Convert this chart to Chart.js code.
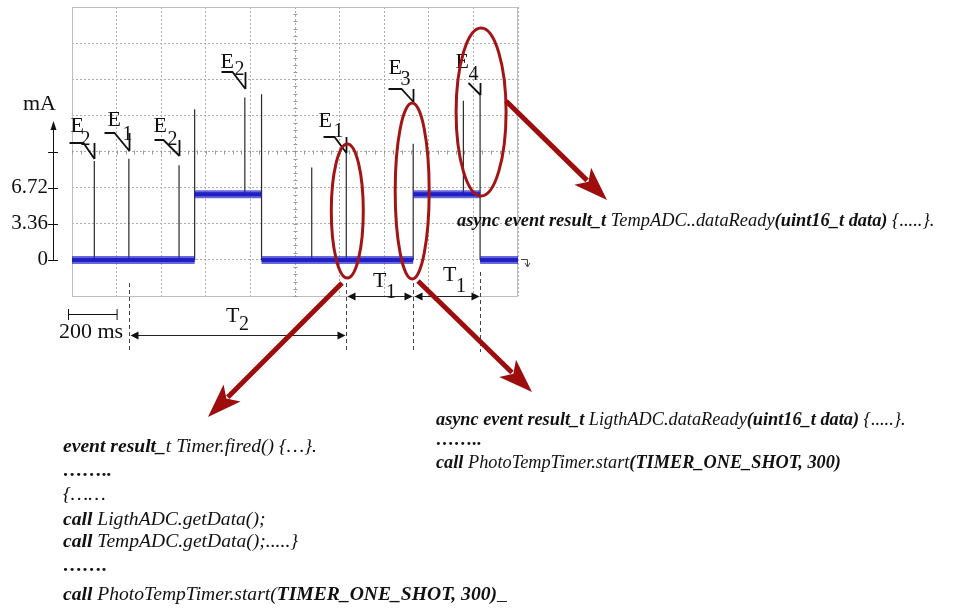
<!DOCTYPE html>
<html>
<head>
<meta charset="utf-8">
<script src="https://cdn.jsdelivr.net/npm/chart.js@4.4.1/dist/chart.umd.min.js"></script>
<style>
  html, body { margin: 0; background: #fff; }
  canvas { display: block; }
</style>
</head>
<body>
<canvas id="scope" width="977" height="608"></canvas>
<script>
'use strict';

// time axis (ms) and current axis (mA)
const timeTicks    = [0, 200, 400, 600, 800, 1000, 1200, 1400, 1600, 1800, 2000];
const currentTicks = [-3.36, 0, 3.36, 6.72, 10.08, 13.44, 16.8, 20.16, 23.52];
const labelledTicks = [0, 3.36, 6.72];
const tickLabels    = ['0', '3.36', '6.72'];

// supply current plateaus
const levelStart = [0, 550, 850, 1530, 1830];
const levelEnd   = [550, 850, 1530, 1830, 2000];
const levelValue = [0, 6.1, 0, 6.1, 0];

// short current peaks
const spikeTime = [100, 255, 480, 550, 775, 850, 1075, 1230, 1530, 1755, 1830];
const spikeBase = [0, 0, 0, 0, 6.1, 0, 0, 0, 0, 6.1, 0];
const spikeTop  = [9.2, 9.4, 8.8, 14.0, 15.1, 15.4, 8.6, 10.0, 10.8, 14.8, 15.5];

// labelled events
const eventName = ['E', 'E', 'E', 'E', 'E', 'E', 'E'];
const eventSub  = ['2', '1', '2', '2', '1', '3', '4'];
const eventTime = [100, 255, 480, 775, 1230, 1530, 1830];

// timer periods drawn under the trace
const t2Span = [255, 1230];
const t1Span = [1230, 1530, 1830];

const codeTemp = [
  [['async event result_t ', 1], ['TempADC..dataReady', 0], ['(uint16_t data)', 1], [' {.....}.', 0]]
];
const codeLight = [
  [['async event result_t ', 1], ['LigthADC.dataReady', 0], ['(uint16_t data)', 1], [' {.....}.', 0]],
  [['……..', 1]],
  [['call ', 1], ['PhotoTempTimer.start', 0], ['(TIMER_ONE_SHOT, 300)', 1]]
];
const codeTimer = [
  [['event result_', 1], ['t Timer.fired() {…}.', 0]],
  [['……..', 1]],
  [['{……', 0]],
  [['call ', 1], ['LigthADC.getData();', 0]],
  [['call ', 1], ['TempADC.getData();.....}', 0]],
  [['…….', 1]],
  [['call ', 1], ['PhotoTempTimer.start(', 0], ['TIMER_ONE_SHOT, 300)', 1], ['_', 0]]
];

// build line data with gaps between pieces
const levelData = [];
levelStart.forEach((s, i) => {
  levelData.push({ x: s, y: levelValue[i] }, { x: levelEnd[i], y: levelValue[i] }, { x: levelEnd[i], y: null });
});
const spikeData = [];
spikeTime.forEach((t, i) => {
  spikeData.push({ x: t, y: spikeBase[i] }, { x: t, y: spikeTop[i] }, { x: t, y: null });
});

const SERIF = '"Liberation Serif", "DejaVu Serif", serif';
const DARK_RED = '#9e0d0d';

function drawRuns(ctx, x, y, runs, size) {
  runs.forEach(([txt, bold]) => {
    ctx.font = `italic ${bold ? 'bold ' : ''}${size}px ${SERIF}`;
    ctx.fillText(txt, x, y);
    x += ctx.measureText(txt).width;
  });
}

function smallHead(ctx, x, y, dir) {
  ctx.beginPath();
  ctx.moveTo(x, y);
  ctx.lineTo(x - dir * 8, y - 4);
  ctx.lineTo(x - dir * 8, y + 4);
  ctx.closePath();
  ctx.fill();
}

function doubleArrow(ctx, x1, x2, y) {
  ctx.beginPath();
  ctx.moveTo(x1 + 2, y);
  ctx.lineTo(x2 - 2, y);
  ctx.stroke();
  smallHead(ctx, x1, y, -1);
  smallHead(ctx, x2, y, 1);
}

function redArrow(ctx, x1, y1, x2, y2) {
  const a = Math.atan2(y2 - y1, x2 - x1);
  const len = 34, half = 12;
  const bx = x2 - Math.cos(a) * len, by = y2 - Math.sin(a) * len;
  ctx.strokeStyle = DARK_RED;
  ctx.fillStyle = DARK_RED;
  ctx.lineWidth = 5;
  ctx.beginPath();
  ctx.moveTo(x1, y1);
  ctx.lineTo(bx + Math.cos(a) * 6, by + Math.sin(a) * 6);
  ctx.stroke();
  ctx.beginPath();
  ctx.moveTo(x2, y2);
  ctx.lineTo(bx - Math.sin(a) * half, by + Math.cos(a) * half);
  ctx.lineTo(bx + Math.cos(a) * 8, by + Math.sin(a) * 8);
  ctx.lineTo(bx + Math.sin(a) * half, by - Math.cos(a) * half);
  ctx.closePath();
  ctx.fill();
}

// scope frame, centre-line minor ticks and the separate mA axis
const scopeFrame = {
  id: 'scopeFrame',
  beforeDatasetsDraw(chart) {
    const { ctx, chartArea: ca, scales: { x, y } } = chart;
    ctx.save();
    ctx.strokeStyle = '#bdbdbd';
    ctx.lineWidth = 1;
    ctx.strokeRect(ca.left + 0.5, ca.top + 0.5, ca.right - ca.left - 1, ca.bottom - ca.top);

    // minor ticks on the centre graticule lines
    ctx.strokeStyle = '#9a9a9a';
    const cx = Math.round(x.getPixelForValue(1000)) + 0.5;
    for (let v = -3.36; v < 23.52; v += 0.672) {
      const py = Math.round(y.getPixelForValue(v)) + 0.5;
      ctx.beginPath(); ctx.moveTo(cx - 2, py); ctx.lineTo(cx + 2, py); ctx.stroke();
    }
    const cy = Math.round(y.getPixelForValue(10.08)) + 0.5;
    for (let t = 0; t < 2000; t += 40) {
      const px = Math.round(x.getPixelForValue(t)) + 0.5;
      ctx.beginPath(); ctx.moveTo(px, cy - 2); ctx.lineTo(px, cy + 2); ctx.stroke();
    }
    ctx.restore();
  },
  afterDraw(chart) {
    const { ctx, scales: { x, y } } = chart;
    ctx.save();
    ctx.strokeStyle = '#111';
    ctx.fillStyle = '#111';
    ctx.lineWidth = 1;

    // current axis with arrow
    const ax = 53.5;
    ctx.beginPath();
    ctx.moveTo(ax, y.getPixelForValue(0));
    ctx.lineTo(ax, 128);
    ctx.stroke();
    ctx.beginPath();
    ctx.moveTo(ax, 121); ctx.lineTo(ax - 3, 130); ctx.lineTo(ax + 3, 130); ctx.closePath();
    ctx.fill();
    [0, 3.36, 6.72, 10.08].forEach(v => {
      const py = Math.round(y.getPixelForValue(v)) + 0.5;
      ctx.beginPath(); ctx.moveTo(48, py); ctx.lineTo(58, py); ctx.stroke();
    });
    ctx.font = `22px ${SERIF}`;
    ctx.fillText('mA', 23, 110);

    // event callouts
    const callout = [
      { ty: 159, h: 16, d: 11, w: 25, ex: -24, ey: -27, sx: -14, sy: -14 },
      { ty: 151, h: 18, d: 15, w: 25, ex: -22, ey: -25, sx: -7,  sy: -11 },
      { ty: 156, h: 16, d: 16, w: 25, ex: -26, ey: -24, sx: -12, sy: -11 },
      { ty: 89,  h: 17, d: 13, w: 24, ex: -25, ey: -21, sx: -11, sy: -14 },
      { ty: 153, h: 16, d: 12, w: 23, ex: -28, ey: -26, sx: -13, sy: -16 },
      { ty: 102, h: 13, d: 12, w: 25, ex: -25, ey: -28, sx: -13, sy: -17 },
      { ty: 95,  h: 12, d: 12, w: 12, ex: -25, ey: -27, sx: -12, sy: -15 }
    ];
    eventTime.forEach((t, i) => {
      const c = callout[i];
      const tx = Math.round(x.getPixelForValue(t)) + 0.5;
      ctx.lineWidth = 1.8;
      ctx.beginPath();
      ctx.moveTo(tx - c.w, c.ty - c.h);
      ctx.lineTo(tx - c.d, c.ty - c.h);
      ctx.lineTo(tx, c.ty);
      ctx.moveTo(tx, c.ty - c.h);
      ctx.lineTo(tx, c.ty);
      ctx.stroke();
      ctx.font = `22px ${SERIF}`;
      ctx.fillText(eventName[i], tx + c.ex, c.ty + c.ey);
      ctx.font = `20px ${SERIF}`;
      ctx.fillText(eventSub[i], tx + c.sx, c.ty + c.sy);
    });

    // 200 ms scale bar
    const b0 = x.getPixelForValue(0) - 4, b1 = x.getPixelForValue(200) + 0.5;
    ctx.lineWidth = 1;
    ctx.beginPath();
    ctx.moveTo(b0, 314.5); ctx.lineTo(b1, 314.5);
    ctx.moveTo(b0 + 0.5, 309); ctx.lineTo(b0 + 0.5, 320);
    ctx.moveTo(b1, 309); ctx.lineTo(b1, 320);
    ctx.stroke();
    ctx.font = `22px ${SERIF}`;
    ctx.fillText('200 ms', 59, 338);

    // dashed period markers
    ctx.strokeStyle = '#444';
    ctx.setLineDash([4, 3]);
    [t2Span[0], ...t1Span].forEach((t, i) => {
      const px = Math.round(x.getPixelForValue(t)) + 0.5;
      ctx.beginPath();
      ctx.moveTo(px, i === 3 ? 272 : 283);
      ctx.lineTo(px, 352);
      ctx.stroke();
    });
    ctx.setLineDash([]);

    // period arrows and labels
    ctx.strokeStyle = '#222';
    ctx.fillStyle = '#111';
    const p = t => Math.round(x.getPixelForValue(t)) + 0.5;
    doubleArrow(ctx, p(t2Span[0]) + 1, p(t2Span[1]) - 1, 335.5);
    doubleArrow(ctx, p(t1Span[0]) + 1, p(t1Span[1]) - 1, 296.5);
    doubleArrow(ctx, p(t1Span[1]) + 1, p(t1Span[2]) - 1, 296.5);
    const periodLabel = (t0, t1, dx, base, sub) => {
      const mid = (p(t0) + p(t1)) / 2;
      ctx.font = `22px ${SERIF}`;
      ctx.fillText('T', mid + dx, base);
      ctx.font = `20px ${SERIF}`;
      ctx.fillText(sub, mid + dx + 13, base + (sub === '2' ? 8 : 11));
    };
    periodLabel(t2Span[0], t2Span[1], -12, 322, '2');
    periodLabel(t1Span[0], t1Span[1], -7, 287, '1');
    periodLabel(t1Span[1], t1Span[2], -4, 281, '1');

    // return glyph at the end of the trace
    ctx.strokeStyle = '#444';
    ctx.beginPath();
    ctx.moveTo(521, 259.5); ctx.lineTo(527.5, 259.5); ctx.lineTo(527.5, 266);
    ctx.moveTo(525, 263); ctx.lineTo(527.5, 267); ctx.lineTo(530, 263);
    ctx.stroke();

    // highlighted events
    ctx.strokeStyle = '#a31515';
    ctx.lineWidth = 3;
    [[1230, 1, 211, 16, 67], [1530, -1, 191, 17, 88], [1830, 1, 112, 25, 84]].forEach(([t, dx, cy, rx, ry]) => {
      ctx.beginPath();
      ctx.ellipse(x.getPixelForValue(t) + dx, cy, rx, ry, 0, 0, Math.PI * 2);
      ctx.stroke();
    });
    redArrow(ctx, 506, 101, 607, 200);
    redArrow(ctx, 342, 283, 208, 417);
    redArrow(ctx, 418, 281, 532, 392);

    // handler code
    ctx.fillStyle = '#111';
    codeTemp.forEach(line => drawRuns(ctx, 457, 226, line, 18.4));
    [425, 445, 468].forEach((yb, i) => drawRuns(ctx, 436, yb, codeLight[i], 18.3));
    [452, 476, 500, 525, 547, 571, 600].forEach((yb, i) => drawRuns(ctx, 63, yb, codeTimer[i], 19.6));
    ctx.restore();
  }
};

new Chart(document.getElementById('scope'), {
  type: 'line',
  data: {
    datasets: [
      { data: levelData, borderColor: 'rgba(40,40,205,0.7)', borderWidth: 8, pointRadius: 0, spanGaps: false, borderCapStyle: 'butt' },
      { data: levelData, borderColor: '#0c0ca8', borderWidth: 4, pointRadius: 0, spanGaps: false, borderCapStyle: 'butt' },
      { data: spikeData, borderColor: '#2a2a2a', borderWidth: 1.2, pointRadius: 0, spanGaps: false }
    ]
  },
  options: {
    responsive: false,
    animation: false,
    events: [],
    layout: { padding: { left: 0, top: 7, right: 459, bottom: 312 } },
    plugins: { legend: { display: false }, tooltip: { enabled: false } },
    scales: {
      x: {
        type: 'linear',
        min: 0, max: 2000,
        afterBuildTicks: s => { s.ticks = timeTicks.map(v => ({ value: v })); },
        afterFit: s => { s.height = 0; s.paddingLeft = 0; s.paddingRight = 0; },
        ticks: { display: false },
        grid: { color: '#adadad', drawTicks: false },
        border: { display: false, dash: [2, 2] }
      },
      y: {
        min: -3.36, max: 23.52,
        afterBuildTicks: s => { s.ticks = currentTicks.map(v => ({ value: v })); },
        afterFit: s => { s.width = 72; s.paddingTop = 0; s.paddingBottom = 0; },
        ticks: {
          padding: 24,
          color: '#111',
          font: { family: SERIF, size: 21 },
          callback: v => {
            const k = labelledTicks.findIndex(l => Math.abs(l - v) < 1e-6);
            return k < 0 ? '' : tickLabels[k];
          }
        },
        grid: { color: '#adadad', drawTicks: false },
        border: { display: false, dash: [2, 2] }
      }
    }
  },
  plugins: [scopeFrame]
});
</script>
</body>
</html>
